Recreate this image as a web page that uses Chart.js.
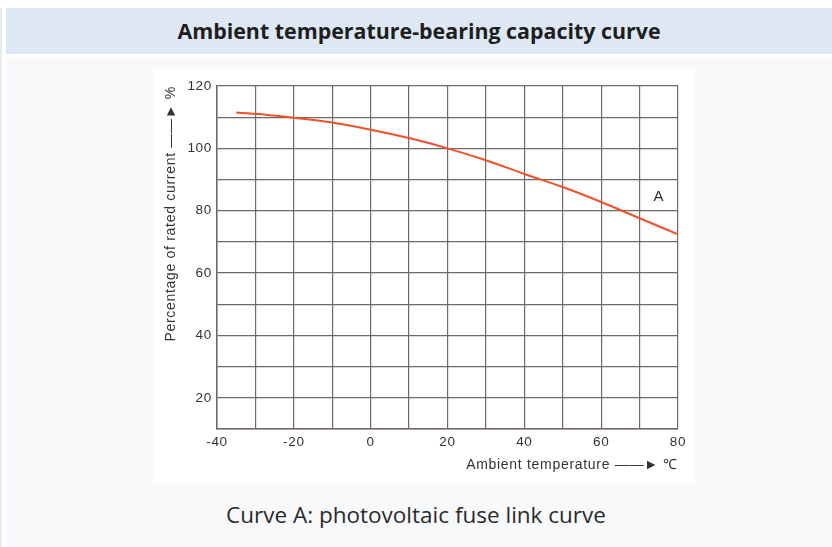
<!DOCTYPE html>
<html>
<head>
<meta charset="utf-8">
<script src="https://cdn.jsdelivr.net/npm/chart.js@4.4.1/dist/chart.umd.min.js"></script>
<style>
  html, body { margin: 0; padding: 0; background: #ffffff; }
  body { width: 832px; height: 547px; position: relative; overflow: hidden; }
  #leftStrip { position: absolute; left: 0; top: 8px; width: 2px; height: 539px; background: #e4ebf5; }
  #header {
    position: absolute; left: 6px; right: 0; top: 8px; height: 46px;
    background: #dee8f5; color: #1e1e1e;
    font: 700 21.4px "Open Sans", sans-serif; text-align: center; line-height: 46px;
  }
  #content { position: absolute; left: 6px; right: 0; top: 57px; bottom: 0; background: #f8f9fb; }
  #box { position: absolute; left: 154px; top: 69px; width: 541px; height: 414px; background: #ffffff; }
  #caption {
    position: absolute; left: 0; right: 0; top: 500px; text-align: center;
    font: 400 22.5px/30px "Open Sans", sans-serif; color: #2a2a2a;
  }
</style>
</head>
<body>
<div id="leftStrip"></div>
<div id="header">Ambient temperature-bearing capacity curve</div>
<div id="content"></div>
<div id="box"><canvas id="capacityChart" width="541" height="414"></canvas></div>
<div id="caption">Curve A: photovoltaic fuse link curve</div>

<script>
// Curve A readings (temperature in °C, % of rated current)
const temperatures = [-35, -30, -20, -10, 0, 10, 20, 30, 40, 50, 60, 70, 80];
const ratedPercent = [111.5, 111.1, 109.8, 108.3, 106.0, 103.3, 100.0, 96.2, 91.8, 87.6, 82.8, 77.6, 72.4];

const xTickLabels = [-40, -20, 0, 20, 40, 60, 80];
const yTickLabels = [20, 40, 60, 80, 100, 120];

const curveLabel = { text: "A", x: 75, y: 84.5 };

const gridColor = "#726764";
const tickFont = { family: "'Liberation Sans', Arial, sans-serif", size: 13.5 };
const titleFont = { family: "'Liberation Sans', Arial, sans-serif", size: 14 };

// the scanned labels are a bit spaced out, widen the canvas text a little
const spacingPlugin = {
  id: "spacing",
  beforeDraw(chart) { chart.ctx.letterSpacing = "0.7px"; }
};

// small plugin to write the curve name next to the line
const curveNamePlugin = {
  id: "curveName",
  afterDatasetsDraw(chart) {
    const ctx = chart.ctx;
    const px = chart.scales.x.getPixelForValue(curveLabel.x);
    const py = chart.scales.y.getPixelForValue(curveLabel.y);
    ctx.save();
    ctx.font = "15px 'Liberation Sans', Arial, sans-serif";
    ctx.fillStyle = "#2b2b2b";
    ctx.textAlign = "center";
    ctx.textBaseline = "middle";
    ctx.fillText(curveLabel.text, px, py);
    ctx.restore();
  }
};

const ctx = document.getElementById("capacityChart").getContext("2d");

new Chart(ctx, {
  type: "line",
  data: {
    datasets: [{
      label: "Curve A",
      data: temperatures.map((t, i) => ({ x: t, y: ratedPercent[i] })),
      borderColor: "#f0502a",
      borderWidth: 2,
      pointRadius: 0,
      cubicInterpolationMode: "monotone",
      fill: false
    }]
  },
  options: {
    responsive: false,
    animation: false,
    layout: { padding: { left: 0, right: 17, top: 17, bottom: 9 } },
    plugins: {
      legend: { display: false },
      tooltip: { enabled: false }
    },
    scales: {
      x: {
        type: "linear",
        min: -40,
        max: 80,
        ticks: {
          stepSize: 10,
          color: "#333333",
          font: tickFont,
          padding: 5,
          maxRotation: 0,
          callback: v => xTickLabels.includes(v) ? String(v) : ""
        },
        grid: { color: gridColor, lineWidth: 1.2, drawTicks: false },
        border: { color: gridColor, width: 1.5 },
        title: {
          display: true,
          text: "Ambient temperature \u2014\u2014\u25BA \u2103",
          align: "end",
          color: "#333333",
          font: titleFont,
          padding: { top: 4, bottom: 0 }
        },
        afterFit(scale) { scale.height = 45; }
      },
      y: {
        min: 10,
        max: 120,
        ticks: {
          stepSize: 10,
          color: "#333333",
          font: tickFont,
          padding: 5,
          callback: v => yTickLabels.includes(v) ? String(v) : ""
        },
        grid: { color: gridColor, lineWidth: 1.2, drawTicks: false },
        border: { color: gridColor, width: 1.5 },
        title: {
          display: true,
          text: "Percentage of rated current \u2014\u2014\u25BA %",
          align: "end",
          color: "#333333",
          font: titleFont,
          padding: { top: 9, bottom: 0 }
        },
        afterFit(scale) { scale.width = 63; }
      }
    }
  },
  plugins: [spacingPlugin, curveNamePlugin]
});
</script>
</body>
</html>
